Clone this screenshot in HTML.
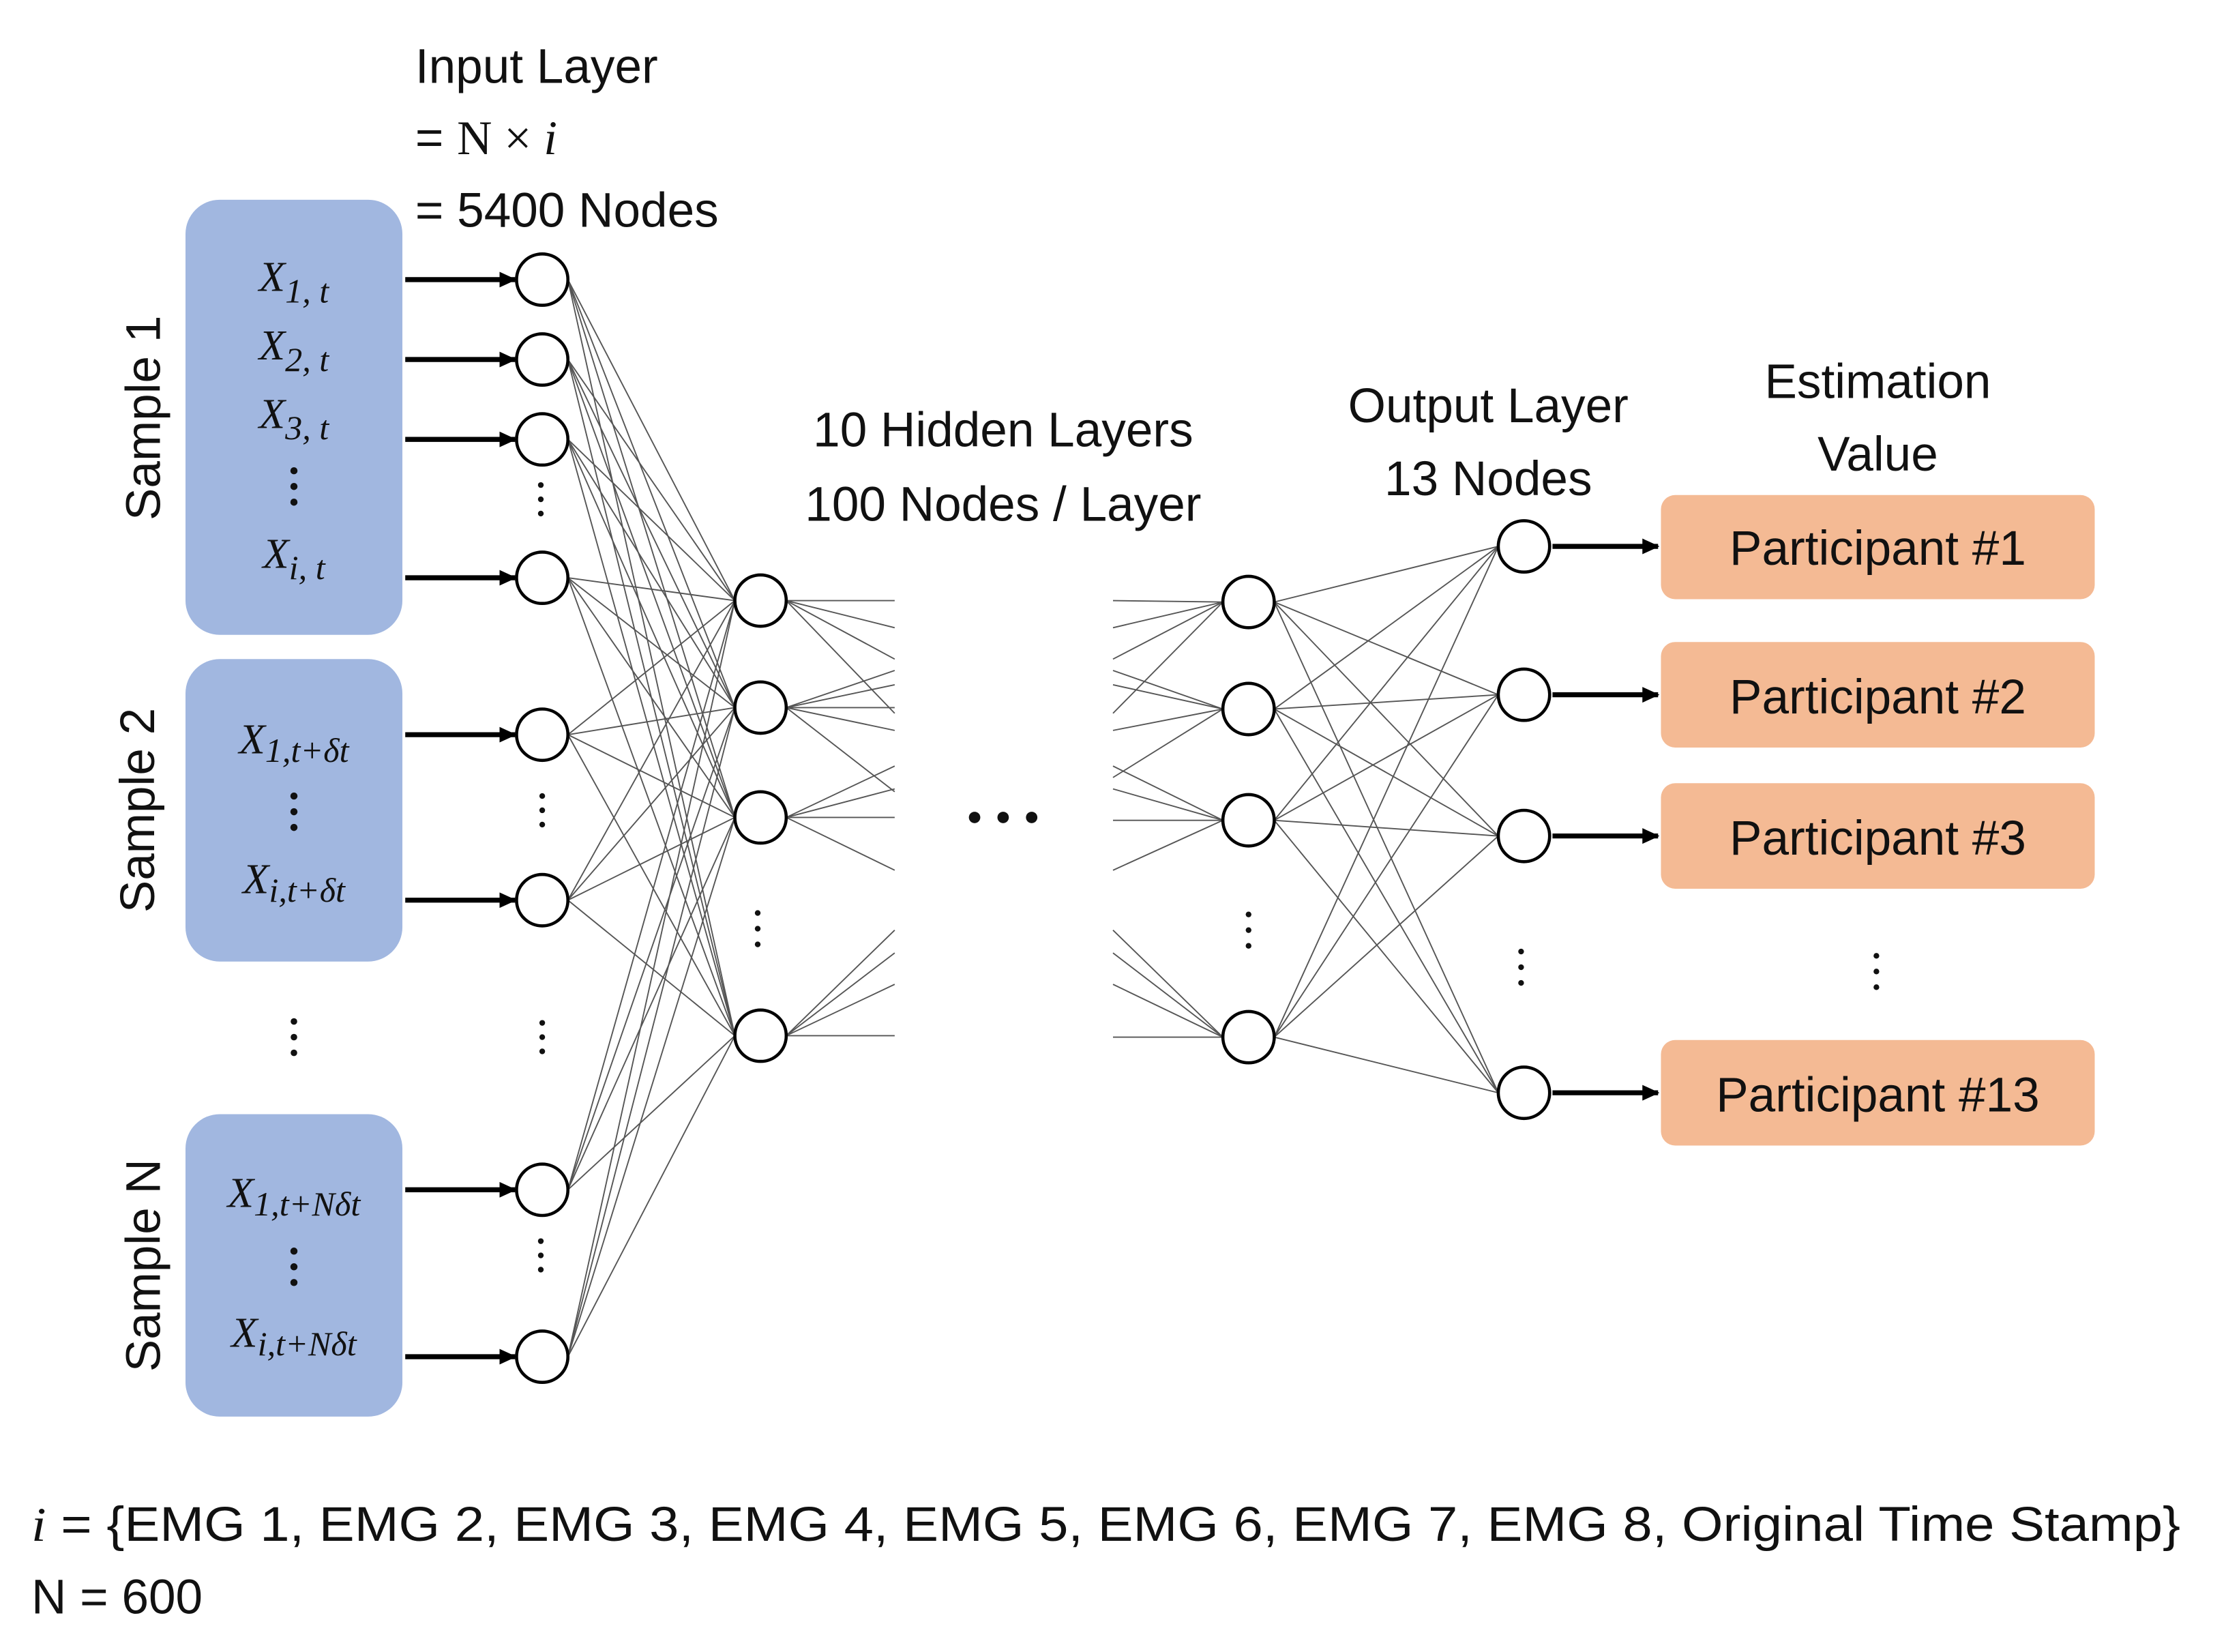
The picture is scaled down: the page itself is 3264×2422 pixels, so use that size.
<!DOCTYPE html>
<html><head><meta charset="utf-8"><style>
html,body{margin:0;padding:0;background:#fff;}
svg{display:block;}
text{font-family:"Liberation Sans",sans-serif;fill:#111;}
.m{font-family:"Liberation Serif",serif;font-style:italic;}
</style></head><body>
<svg width="3264" height="2422" viewBox="0 0 1560 1158" preserveAspectRatio="none" xmlns="http://www.w3.org/2000/svg">
<defs><marker id="ar" markerWidth="12" markerHeight="12" refX="11" refY="6" orient="auto" markerUnits="userSpaceOnUse"><path d="M0,0.5 L12,6 L0,11.5z" fill="#000"/></marker></defs>
<rect x="130" y="140" width="152" height="305" rx="24" fill="#a1b7e0"/>
<rect x="130" y="462" width="152" height="212" rx="24" fill="#a1b7e0"/>
<rect x="130" y="781" width="152" height="212" rx="24" fill="#a1b7e0"/>
<text transform="translate(112,293) rotate(-90)" font-size="34" text-anchor="middle">Sample 1</text>
<text transform="translate(108,568) rotate(-90)" font-size="34" text-anchor="middle">Sample 2</text>
<text transform="translate(112,887) rotate(-90)" font-size="34" text-anchor="middle">Sample N</text>
<g font-size="30" text-anchor="middle">
<text x="206" y="204" class="m">X<tspan font-size="24" dy="8">1, t</tspan></text>
<text x="206" y="252" class="m">X<tspan font-size="24" dy="8">2, t</tspan></text>
<text x="206" y="300" class="m">X<tspan font-size="24" dy="8">3, t</tspan></text>
<text x="206" y="398" class="m">X<tspan font-size="24" dy="8">i, t</tspan></text>
<text x="206" y="528" class="m">X<tspan font-size="24" dy="6">1,t+δt</tspan></text>
<text x="206" y="626" class="m">X<tspan font-size="24" dy="6">i,t+δt</tspan></text>
<text x="206" y="846" class="m">X<tspan font-size="24" dy="6">1,t+Nδt</tspan></text>
<text x="206" y="944" class="m">X<tspan font-size="24" dy="6">i,t+Nδt</tspan></text>
</g>
<g fill="#111">
<circle cx="206" cy="330" r="2.5"/><circle cx="206" cy="341" r="2.5"/><circle cx="206" cy="352" r="2.5"/>
<circle cx="206" cy="558" r="2.5"/><circle cx="206" cy="569" r="2.5"/><circle cx="206" cy="580" r="2.5"/>
<circle cx="206" cy="877" r="2.5"/><circle cx="206" cy="888" r="2.5"/><circle cx="206" cy="899" r="2.5"/>
<circle cx="206" cy="716" r="2.3"/><circle cx="206" cy="727" r="2.3"/><circle cx="206" cy="738" r="2.3"/>
<circle cx="379" cy="340" r="2"/><circle cx="379" cy="350" r="2"/><circle cx="379" cy="360" r="2"/>
<circle cx="380" cy="558" r="2"/><circle cx="380" cy="568" r="2"/><circle cx="380" cy="578" r="2"/>
<circle cx="380" cy="717" r="2"/><circle cx="380" cy="727" r="2"/><circle cx="380" cy="737" r="2"/>
<circle cx="379" cy="870" r="2"/><circle cx="379" cy="880" r="2"/><circle cx="379" cy="890" r="2"/>
<circle cx="531" cy="640" r="2"/><circle cx="531" cy="651" r="2"/><circle cx="531" cy="662" r="2"/>
<circle cx="875" cy="641" r="2"/><circle cx="875" cy="652" r="2"/><circle cx="875" cy="663" r="2"/>
<circle cx="1066" cy="667" r="2"/><circle cx="1066" cy="678" r="2"/><circle cx="1066" cy="689" r="2"/>
<circle cx="1315" cy="670" r="2"/><circle cx="1315" cy="681" r="2"/><circle cx="1315" cy="692" r="2"/>
<circle cx="683" cy="573" r="4"/><circle cx="703" cy="573" r="4"/><circle cx="723" cy="573" r="4"/>
</g>
<g stroke="#000" stroke-width="3.5" marker-end="url(#ar)">
<line x1="284" y1="196" x2="361" y2="196"/><line x1="284" y1="252" x2="361" y2="252"/>
<line x1="284" y1="308" x2="361" y2="308"/><line x1="284" y1="405" x2="361" y2="405"/>
<line x1="284" y1="515" x2="361" y2="515"/><line x1="284" y1="631" x2="361" y2="631"/>
<line x1="284" y1="834" x2="361" y2="834"/><line x1="284" y1="951" x2="361" y2="951"/>
<line x1="1088" y1="383" x2="1162" y2="383"/><line x1="1088" y1="487" x2="1162" y2="487"/>
<line x1="1088" y1="586" x2="1162" y2="586"/><line x1="1088" y1="766" x2="1162" y2="766"/>
</g>
<g stroke="#555" stroke-width="0.9">
<line x1="398" y1="196" x2="515" y2="421"/><line x1="398" y1="196" x2="515" y2="496"/><line x1="398" y1="196" x2="515" y2="573"/><line x1="398" y1="196" x2="515" y2="726"/>
<line x1="398" y1="252" x2="515" y2="421"/><line x1="398" y1="252" x2="515" y2="496"/><line x1="398" y1="252" x2="515" y2="573"/><line x1="398" y1="252" x2="515" y2="726"/>
<line x1="398" y1="308" x2="515" y2="421"/><line x1="398" y1="308" x2="515" y2="496"/><line x1="398" y1="308" x2="515" y2="573"/><line x1="398" y1="308" x2="515" y2="726"/>
<line x1="398" y1="405" x2="515" y2="421"/><line x1="398" y1="405" x2="515" y2="496"/><line x1="398" y1="405" x2="515" y2="573"/><line x1="398" y1="405" x2="515" y2="726"/>
<line x1="398" y1="515" x2="515" y2="421"/><line x1="398" y1="515" x2="515" y2="496"/><line x1="398" y1="515" x2="515" y2="573"/><line x1="398" y1="515" x2="515" y2="726"/>
<line x1="398" y1="631" x2="515" y2="421"/><line x1="398" y1="631" x2="515" y2="496"/><line x1="398" y1="631" x2="515" y2="573"/><line x1="398" y1="631" x2="515" y2="726"/>
<line x1="398" y1="834" x2="515" y2="421"/><line x1="398" y1="834" x2="515" y2="496"/><line x1="398" y1="834" x2="515" y2="573"/><line x1="398" y1="834" x2="515" y2="726"/>
<line x1="398" y1="951" x2="515" y2="421"/><line x1="398" y1="951" x2="515" y2="496"/><line x1="398" y1="951" x2="515" y2="573"/><line x1="398" y1="951" x2="515" y2="726"/>
<line x1="551" y1="421" x2="627" y2="421"/><line x1="551" y1="421" x2="627" y2="440"/><line x1="551" y1="421" x2="627" y2="462"/><line x1="551" y1="421" x2="627" y2="500"/>
<line x1="551" y1="496" x2="627" y2="470"/><line x1="551" y1="496" x2="627" y2="480"/><line x1="551" y1="496" x2="627" y2="496"/><line x1="551" y1="496" x2="627" y2="512"/><line x1="551" y1="496" x2="627" y2="555"/>
<line x1="551" y1="573" x2="627" y2="537"/><line x1="551" y1="573" x2="627" y2="553"/><line x1="551" y1="573" x2="627" y2="573"/><line x1="551" y1="573" x2="627" y2="610"/>
<line x1="551" y1="726" x2="627" y2="652"/><line x1="551" y1="726" x2="627" y2="668"/><line x1="551" y1="726" x2="627" y2="690"/><line x1="551" y1="726" x2="627" y2="726"/>
<line x1="780" y1="421" x2="857" y2="422"/><line x1="780" y1="440" x2="857" y2="422"/><line x1="780" y1="462" x2="857" y2="422"/><line x1="780" y1="500" x2="857" y2="422"/>
<line x1="780" y1="470" x2="857" y2="497"/><line x1="780" y1="480" x2="857" y2="497"/><line x1="780" y1="512" x2="857" y2="497"/><line x1="780" y1="545" x2="857" y2="497"/>
<line x1="780" y1="537" x2="857" y2="575"/><line x1="780" y1="553" x2="857" y2="575"/><line x1="780" y1="575" x2="857" y2="575"/><line x1="780" y1="610" x2="857" y2="575"/>
<line x1="780" y1="652" x2="857" y2="727"/><line x1="780" y1="668" x2="857" y2="727"/><line x1="780" y1="690" x2="857" y2="727"/><line x1="780" y1="727" x2="857" y2="727"/>
<line x1="893" y1="422" x2="1050" y2="383"/><line x1="893" y1="422" x2="1050" y2="487"/><line x1="893" y1="422" x2="1050" y2="586"/><line x1="893" y1="422" x2="1050" y2="766"/>
<line x1="893" y1="497" x2="1050" y2="383"/><line x1="893" y1="497" x2="1050" y2="487"/><line x1="893" y1="497" x2="1050" y2="586"/><line x1="893" y1="497" x2="1050" y2="766"/>
<line x1="893" y1="575" x2="1050" y2="383"/><line x1="893" y1="575" x2="1050" y2="487"/><line x1="893" y1="575" x2="1050" y2="586"/><line x1="893" y1="575" x2="1050" y2="766"/>
<line x1="893" y1="727" x2="1050" y2="383"/><line x1="893" y1="727" x2="1050" y2="487"/><line x1="893" y1="727" x2="1050" y2="586"/><line x1="893" y1="727" x2="1050" y2="766"/>
</g>
<g fill="#fff" stroke="#000" stroke-width="2.2">
<circle cx="380" cy="196" r="18"/><circle cx="380" cy="252" r="18"/><circle cx="380" cy="308" r="18"/><circle cx="380" cy="405" r="18"/>
<circle cx="380" cy="515" r="18"/><circle cx="380" cy="631" r="18"/><circle cx="380" cy="834" r="18"/><circle cx="380" cy="951" r="18"/>
<circle cx="533" cy="421" r="18"/><circle cx="533" cy="496" r="18"/><circle cx="533" cy="573" r="18"/><circle cx="533" cy="726" r="18"/>
<circle cx="875" cy="422" r="18"/><circle cx="875" cy="497" r="18"/><circle cx="875" cy="575" r="18"/><circle cx="875" cy="727" r="18"/>
<circle cx="1068" cy="383" r="18"/><circle cx="1068" cy="487" r="18"/><circle cx="1068" cy="586" r="18"/><circle cx="1068" cy="766" r="18"/>
</g>
<g fill="#f4ba94">
<rect x="1164" y="347" width="304" height="73" rx="10"/>
<rect x="1164" y="450" width="304" height="74" rx="10"/>
<rect x="1164" y="549" width="304" height="74" rx="10"/>
<rect x="1164" y="729" width="304" height="74" rx="10"/>
</g>
<g font-size="34" text-anchor="middle">
<text x="1316" y="396">Participant #1</text>
<text x="1316" y="500">Participant #2</text>
<text x="1316" y="599">Participant #3</text>
<text x="1316" y="779">Participant #13</text>
<text x="1316" y="279">Estimation</text>
<text x="1316" y="330">Value</text>
<text x="1043" y="296">Output Layer</text>
<text x="1043" y="347">13 Nodes</text>
<text x="703" y="313">10 Hidden Layers</text>
<text x="703" y="365">100 Nodes / Layer</text>
</g>
<g font-size="34">
<text x="291" y="58">Input Layer</text>
<text x="291" y="108">= <tspan font-family="Liberation Serif,serif">N × </tspan><tspan class="m">i</tspan></text>
<text x="291" y="159">= 5400 Nodes</text>
<text x="22" y="1080" textLength="1506" lengthAdjust="spacingAndGlyphs"><tspan class="m">i</tspan> = {EMG 1, EMG 2, EMG 3, EMG 4, EMG 5, EMG 6, EMG 7, EMG 8, Original Time Stamp}</text>
<text x="22" y="1131">N = 600</text>
</g>
</svg>
</body></html>
